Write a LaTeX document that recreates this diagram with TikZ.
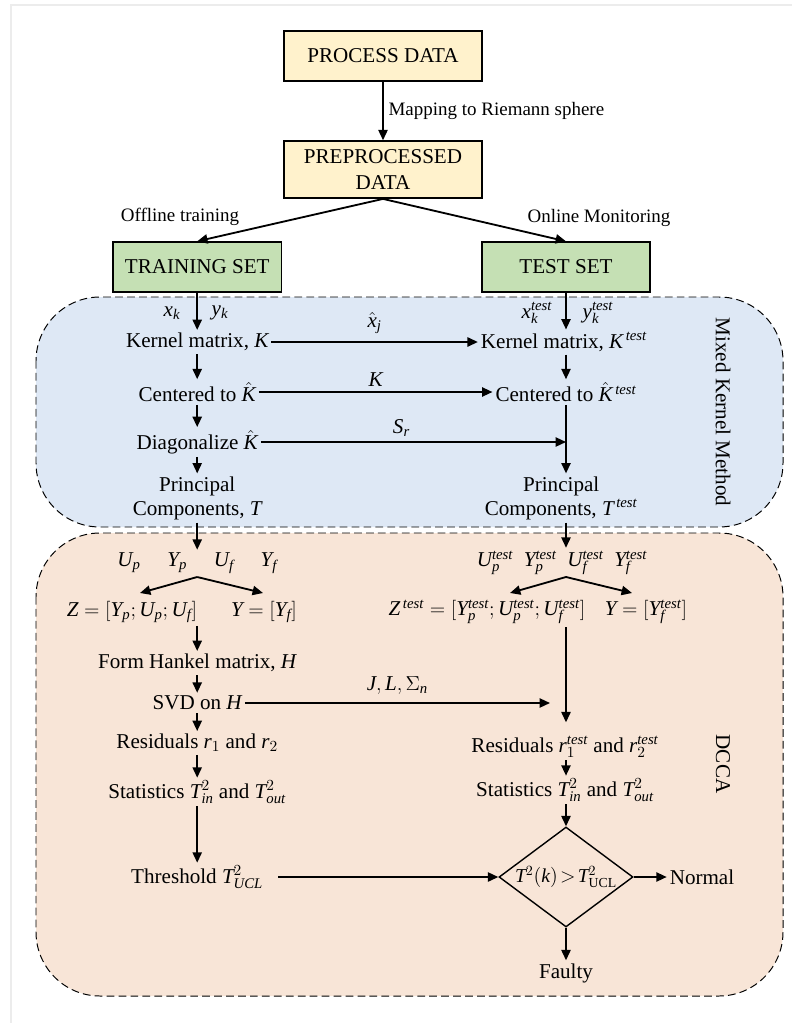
\documentclass[tikz,border=0pt]{standalone}
\usepackage{fontspec}
\setmainfont{Liberation Serif}
\newfontfamily\tmath[NFSSFamily=tmath]{Liberation Serif}
\DeclareSymbolFont{tletters}{TU}{tmath}{m}{it}
\makeatletter
\@tfor\@ltr:=CHJKLSTUYZefijknoprstuxy\do{%
  \edef\@tmp{\noexpand\DeclareMathSymbol{\@ltr}{\noexpand\mathalpha}{tletters}{`\@ltr}}\@tmp}
\makeatother
\usepackage{xcolor}
\usepackage{tikz}
\usetikzlibrary{shapes.geometric, arrows.meta, positioning, calc}
\definecolor{datacolor}{HTML}{FFF2CC}
\definecolor{setcolor}{HTML}{C5E0B4}
\definecolor{kernelcolor}{HTML}{DEE8F5}
\definecolor{dccacolor}{HTML}{F8E5D7}

\begin{document}
\begin{tikzpicture}[font=\fontsize{15}{17}\selectfont,
    box/.style={rectangle, draw, line width=1pt, minimum width=4.95cm, minimum height=1.25cm, font=\fontsize{15}{18.5}\selectfont, align=center},
    txt/.style={inner sep=2pt, align=center},
    side/.style={font=\fontsize{13.5}{16}\selectfont},
    arr/.style={-{Triangle[length=2.6mm, width=2.3mm]}, line width=1.3pt},
    region/.style={draw, line width=0.7pt, dash pattern=on 5.5pt off 3pt, rounded corners=1.6cm}]
    \useasboundingbox (0,0) rectangle (19.8,-25.575);

    % Page frame
    \draw[gray!15, line width=0.8pt] (0.275,-25.575) -- (0.275,-0.125) -- (19.8,-0.125);

    % Dashed regions
    \draw[region, fill=kernelcolor] (0.9,-7.425) rectangle (19.575,-13.175);
    \draw[region, fill=dccacolor] (0.9,-13.325) rectangle (19.575,-24.9);
    \node[rotate=-90] (mkm) at (18.075,-10.3) {Mixed Kernel Method};
    \node[rotate=-90] (dcca) at (18.075,-19.1) {DCCA};

    % Data boxes
    \node[box, fill=datacolor] (proc) at (9.575,-1.4) {PROCESS DATA};
    \node[box, fill=datacolor, minimum height=1.43cm] (prep) at (9.575,-4.24) {PREPROCESSED\\DATA};
    \node[box, fill=setcolor, minimum width=4.2cm] (train) at (4.93,-6.675) {TRAINING SET};
    \node[box, fill=setcolor, minimum width=4.2cm] (test) at (14.15,-6.675) {TEST SET};

    \draw[arr] (proc) -- (prep) node[midway, right, side] {Mapping to Riemann sphere};
    \draw[arr] (prep.south) -- (train.north);
    \draw[arr] (prep.south) -- (test.north);
    \node[side] (offl) at (4.5,-5.425) {Offline training};
    \node[side] (onl) at (14.975,-5.45) {Online Monitoring};

    % Kernel part, training side
    \node[txt] (xk) at (4.3,-7.825) {$x_k$};
    \node[txt] (yk) at (5.5,-7.825) {$y_k$};
    \node[txt] (kmat) at (4.93,-8.55) {Kernel matrix, $K$};
    \node[txt] (cent) at (4.93,-9.8) {Centered to $\hat{K}$};
    \node[txt] (diag) at (4.93,-11.05) {Diagonalize $\hat{K}$};
    \node[txt] (pc) at (4.93,-12.45) {Principal\\Components, $T$};
    \draw[arr] (train) -- (kmat);
    \draw[arr] (kmat) -- (cent);
    \draw[arr] (cent) -- (diag);
    \draw[arr] (diag) -- (pc);

    % Kernel part, test side
    \node[txt] (xkt) at (13.425,-7.825) {$x_k^{test}$};
    \node[txt] (ykt) at (14.95,-7.825) {$y_k^{test}$};
    \node[txt] (kmatt) at (14.1,-8.55) {Kernel matrix, $K^{\,test}$};
    \node[txt] (centt) at (14.15,-9.8) {Centered to $\hat{K}^{\,test}$};
    \node[txt] (pct) at (14.03,-12.45) {Principal\\Components, $T^{\,test}$};
    \coordinate (srend) at (14.15,-11.05);
    \draw[arr] (test.south) -- (test.south |- kmatt.north);
    \draw[arr] (kmatt.south -| test) -- (centt.north -| test);
    \draw[arr] (centt.south -| test) -- (pct.north -| test);

    % Links between the two sides
    \draw[arr] (kmat) -- (kmatt) node[midway, above, yshift=2pt] {$\hat{x}_j$};
    \draw[arr] (cent) -- (centt) node[midway, above] {$K$};
    \draw[arr] (diag) -- (srend) node[midway, above, xshift=-0.3cm] {$S_r$};

    % DCCA, training side
    \node[txt] (ulist) at (4.93,-14.075) {$U_p\quad\; Y_p\quad\; U_f\quad\; Y_f$};
    \coordinate (forkl) at (4.93,-14.425);
    \coordinate (zl) at (3.5,-14.825);
    \coordinate (yl) at (6.575,-14.825);
    \node[txt] (zmat) at (3.3,-15.3) {$Z=[Y_p;U_p;U_f]$};
    \node[txt] (ymat) at (6.6,-15.3) {$Y=[Y_f]$};
    \node[txt] (hank) at (4.93,-16.575) {Form Hankel matrix, $H$};
    \node[txt] (svd) at (4.93,-17.575) {SVD on $H$};
    \node[txt] (resid) at (4.93,-18.575) {Residuals $r_1$ and $r_2$};
    \node[txt] (stat) at (4.93,-19.8) {Statistics $T_{in}^2$ and $T_{out}^2$};
    \node[txt] (thresh) at (4.93,-21.925) {Threshold $T_{UCL}^2$};
    \draw[arr] (pc) -- (ulist);
    \draw[arr] (forkl) -- (zl);
    \draw[arr] (forkl) -- (yl);
    \draw[arr] (hank |- zmat.south) -- (hank.north);
    \draw[arr] (hank) -- (svd);
    \draw[arr] (svd) -- (resid);
    \draw[arr] (resid) -- (stat);
    \draw[arr] (stat) -- (thresh);

    % DCCA, test side
    \node[txt] (ulistt) at (14.05,-14.075) {$U_p^{test}\enspace Y_p^{test}\enspace U_f^{test}\enspace Y_f^{test}$};
    \coordinate (forkr) at (14.15,-14.425);
    \coordinate (zr) at (12.75,-14.825);
    \coordinate (yr) at (15.8,-14.825);
    \node[txt] (zmatt) at (12.175,-15.3) {$Z^{\,test}=[Y_p^{test};U_p^{test};U_f^{test}]$};
    \node[txt] (ymatt) at (16.15,-15.3) {$Y=[Y_f^{test}]$};
    \coordinate (jlend) at (13.75,-17.575);
    \node[txt] (residt) at (14.125,-18.675) {Residuals $r_1^{test}$ and $r_2^{test}$};
    \node[txt] (statt) at (14.125,-19.75) {Statistics $T_{in}^2$ and $T_{out}^2$};
    \draw[arr] (pct.south -| test) -- (ulistt.north -| test);
    \draw[arr] (forkr) -- (zr);
    \draw[arr] (forkr) -- (yr);
    \draw[arr, shorten >=8pt] (zmatt.south -| test) -- (residt.north -| test);
    \draw[arr] (svd) -- (jlend) node[midway, above, yshift=2pt] {$J,L,\Sigma_n$};
    \draw[arr] (residt.south -| test) -- (statt.north -| test);

    % Decision
    \node[diamond, draw, line width=1pt, minimum width=3.35cm, minimum height=2.5cm, inner sep=0pt] (dec) at (14.15,-21.925) {};
    \node[txt, font=\fontsize{14}{16}\selectfont] (dectxt) at (dec) {$T^2(k)\!>\!T^2_{\mathrm{UCL}}$};
    \node[txt] (normal) at (17.55,-21.925) {Normal};
    \node[txt] (faulty) at (14.15,-24.325) {Faulty};
    \draw[arr] (statt.south -| test) -- (dec.north);
    \draw[arr, shorten <=0.3cm] (thresh) -- (dec.west);
    \draw[arr] (dec.east) -- (normal.west);
    \draw[arr] (dec.south) -- (faulty.north);
\end{tikzpicture}
\end{document}
